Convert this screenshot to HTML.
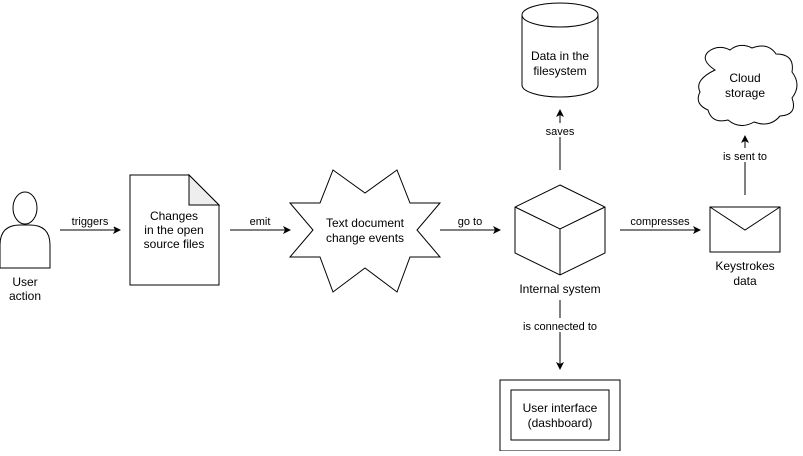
<!DOCTYPE html><html><head><style>body{margin:0;background:#fff}</style></head><body>
<svg width="803" height="451" viewBox="0 0 803 451" xmlns="http://www.w3.org/2000/svg" font-family="Liberation Sans, sans-serif" font-size="12" fill="none" stroke="#000">
<defs><marker id="a" markerWidth="8" markerHeight="8" refX="7" refY="4" orient="auto" markerUnits="userSpaceOnUse"><path d="M0,0L8,4L0,8L2,4z" fill="#000" stroke="none"/></marker></defs>
<!-- person -->
<ellipse cx="25" cy="208" rx="12" ry="16" fill="#fff"/>
<path d="M0,268V245Q0,225 20,225H30Q50,225 50,245V268Z" fill="#fff"/>
<!-- doc -->
<path d="M130,175H189L219,205V285H130Z" fill="#fff"/>
<path d="M189,175V205H219Z" fill="#eee"/>
<!-- star -->
<path d="M333,170L365,193L397,170L410,203L440,203L417,230L440,257L410,257L397,292L365,268L333,292L320,257L290,257L313,230L290,203L320,203Z" fill="#fff"/>
<!-- cube -->
<path d="M560,185L605,207V253L560,275L515,253V207Z" fill="#fff"/>
<path d="M515,207L560,229L605,207M560,229V275"/>
<!-- cylinder -->
<path d="M522,15V85A38,12 0 0 0 598,85V15" fill="#fff"/>
<ellipse cx="560" cy="15" rx="38" ry="12" fill="#fff"/>
<!-- cloud -->
<path d="M715,70Q700,60 708,52Q718,44 730,50Q740,42 752,48Q768,42 776,54Q795,54 792,72Q802,85 792,98Q798,115 780,116Q770,128 754,122Q740,130 728,120Q712,124 708,110Q694,104 700,92Q694,80 715,70Z" fill="#fff"/>
<!-- envelope -->
<rect x="710" y="207" width="70" height="45" fill="#fff"/>
<path d="M710,207L745,230L780,207"/>
<!-- ui -->
<rect x="500" y="380" width="120" height="71" fill="#fff"/>
<rect x="511" y="390" width="98" height="50"/>
<!-- arrows -->
<g marker-end="url(#a)">
<path d="M60,230H120"/><path d="M230,230H290"/><path d="M440,230H500"/><path d="M620,230H700"/>
<path d="M560,170V110"/><path d="M745,195V136"/><path d="M560,300V369"/>
</g>
<g fill="#000" stroke="none" text-anchor="middle">
<rect x="66" y="213" width="48" height="14" fill="#fff"/><text x="90" y="225" font-size="11">triggers</text>
<text x="260" y="225" font-size="11">emit</text>
<text x="470" y="225" font-size="11">go to</text>
<text x="660" y="225" font-size="11">compresses</text>
<rect x="540" y="123" width="40" height="14" fill="#fff"/><text x="560" y="135" font-size="11">saves</text>
<rect x="718" y="148" width="54" height="14" fill="#fff"/><text x="745" y="160" font-size="11">is sent to</text>
<rect x="518" y="318" width="84" height="14" fill="#fff"/><text x="560" y="330" font-size="11">is connected to</text>
<text x="25" y="286">User</text><text x="25" y="300">action</text>
<text x="174" y="220">Changes</text><text x="174" y="234">in the open</text><text x="174" y="248">source files</text>
<text x="365" y="227">Text document</text><text x="365" y="242">change events</text>
<text x="560" y="293">Internal system</text>
<text x="560" y="60">Data in the</text><text x="560" y="75">filesystem</text>
<text x="745" y="82">Cloud</text><text x="745" y="97">storage</text>
<text x="745" y="270">Keystrokes</text><text x="745" y="285">data</text>
<text x="560" y="412">User interface</text><text x="560" y="427">(dashboard)</text>
</g>
</svg></body></html>
